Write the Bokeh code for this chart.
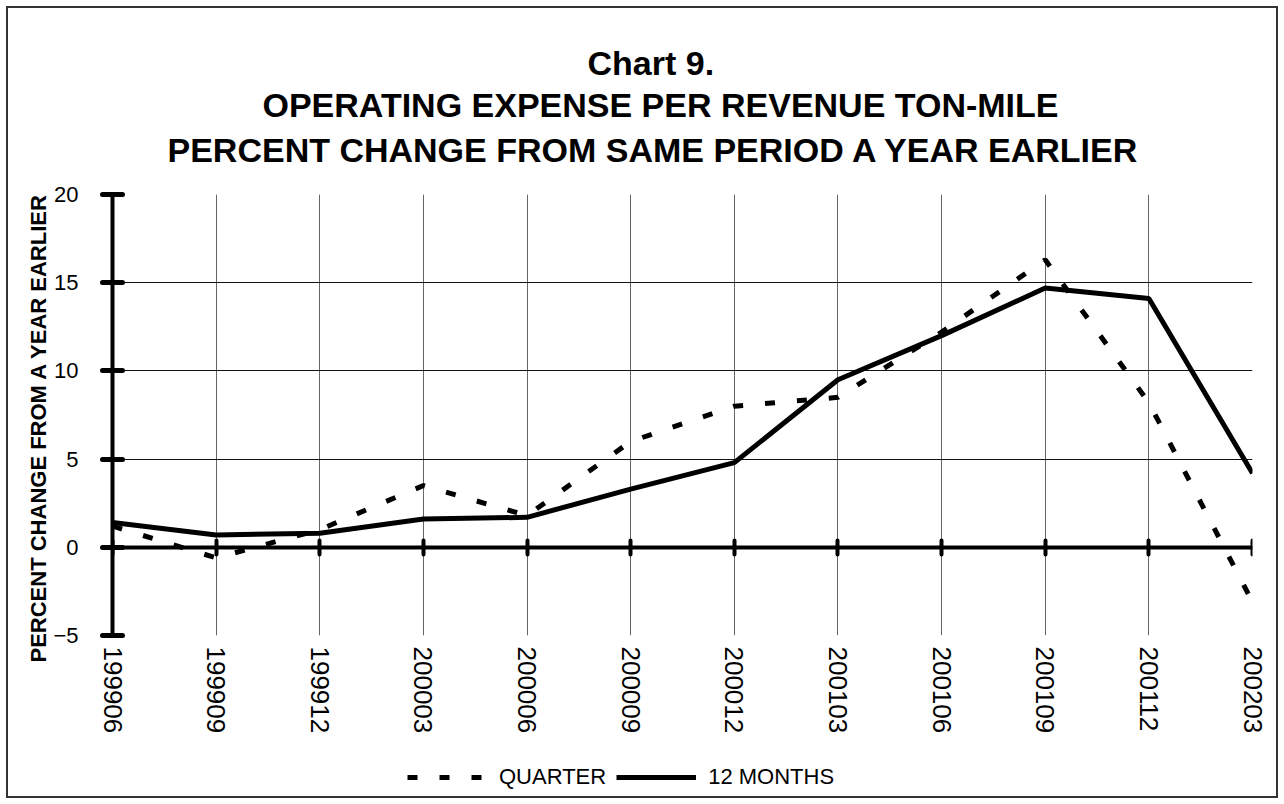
from bokeh.plotting import figure
from bokeh.layouts import column
from bokeh.models import LinearAxis, FixedTicker, Title, Legend, LegendItem, Range1d
from bokeh.embed import file_html
from bokeh.resources import INLINE

periods = ["199906", "199909", "199912", "200003", "200006", "200009",
           "200012", "200103", "200106", "200109", "200112", "200203"]
quarter = [1.2, -0.6, 1.0, 3.5, 1.8, 6.0, 8.0, 8.5, 12.2, 16.3, 8.2, -3.1]
twelve_months = [1.4, 0.7, 0.8, 1.6, 1.7, 3.3, 4.8, 9.5, 12.0, 14.7, 14.1, 4.2]
y_ticks = [-5, 0, 5, 10, 15, 20]
title_lines = ["Chart 9.",
               "OPERATING EXPENSE PER REVENUE TON-MILE",
               "PERCENT CHANGE FROM SAME PERIOD A YEAR EARLIER"]
y_label = "PERCENT CHANGE FROM A YEAR EARLIER"
series_names = ["QUARTER", "12 MONTHS"]

FONT = "Liberation Sans"
x = list(range(len(periods)))

p = figure(width=1268, height=744, output_backend="svg", toolbar_location=None,
           title=None,
           x_range=Range1d(0, len(periods) - 1), y_range=Range1d(y_ticks[0], y_ticks[-1]),
           min_border_left=104, min_border_right=24, min_border_top=186,
           min_border_bottom=117)
p.outline_line_color = None
p.background_fill_color = "white"
p.border_fill_color = "white"

# grab the default axes before adding any extra ones
xa = p.xaxis[0]
ya = p.yaxis[0]

# x axis (labels at bottom)
xa.ticker = FixedTicker(ticks=x)
xa.major_label_overrides = {i: s for i, s in enumerate(periods)}
xa.major_label_orientation = "vertical"
xa.axis_line_color = None
xa.major_tick_line_color = None
xa.minor_tick_line_color = None
xa.major_label_standoff = 5
xa.major_label_text_font = FONT
xa.major_label_text_font_size = "26px"
xa.major_label_text_color = "black"

# y axis
ya.ticker = FixedTicker(ticks=y_ticks)
ya.axis_line_width = 4
ya.axis_line_color = "black"
ya.major_tick_in = 10
ya.major_tick_out = 10
ya.major_tick_line_width = 5
ya.major_tick_line_cap = "round"
ya.minor_tick_line_color = None
ya.major_label_standoff = 24
ya.major_label_text_font = FONT
ya.major_label_text_font_size = "22px"
ya.major_label_text_color = "black"

# zero-crossing category axis
za = LinearAxis(fixed_location=0, ticker=FixedTicker(ticks=x),
                major_label_overrides={i: "" for i in x})
za.axis_line_width = 4
za.axis_line_color = "black"
za.major_tick_in = 7
za.major_tick_out = 7
za.major_tick_line_width = 4
za.major_tick_line_cap = "round"
za.minor_tick_line_color = None
za.major_label_text_font_size = "1px"
p.add_layout(za, "below")

# blank spacer between plot area and title block (white tick on white)
spacer = LinearAxis(ticker=FixedTicker(ticks=[x[-1]]),
                    major_label_overrides={x[-1]: ""},
                    axis_line_color=None, major_tick_line_color="white",
                    minor_tick_line_color=None, major_tick_in=0,
                    major_tick_out=23, major_label_standoff=0,
                    major_label_text_font_size="1px")
p.add_layout(spacer, "above")

# titles (added innermost first)
offsets = [475, 150, 55]
standoffs = [0, 5, 5]
for text, off, so in reversed(list(zip(title_lines, offsets, standoffs))):
    p.add_layout(Title(text=text, align="left", offset=off, text_font=FONT,
                       text_font_size="34px", text_font_style="bold",
                       text_color="black", standoff=so), "above")

p.add_layout(Title(text=y_label, align="left", offset=-27, text_font=FONT,
                   text_font_size="22px", text_font_style="bold",
                   text_color="black", standoff=0), "left")

# grids
p.xgrid.ticker = FixedTicker(ticks=x)
p.xgrid.grid_line_color = "#666666"
p.xgrid.grid_line_width = 1
p.ygrid.ticker = FixedTicker(ticks=y_ticks)
p.ygrid.grid_line_color = "#111111"
p.ygrid.grid_line_width = 1

q_style = dict(line_color="black", line_width=5, line_dash="10 22")
m_style = dict(line_color="black", line_width=5)
p.line(x, quarter, **q_style)
p.line(x, twelve_months, **m_style)

# legend strip below the chart (hidden twin renderers feed the legend glyphs)
p2 = figure(width=1268, height=44, output_backend="svg", toolbar_location=None,
            title=None, x_axis_type=None, y_axis_type=None, min_border=0,
            x_range=Range1d(0, len(periods) - 1),
            y_range=Range1d(y_ticks[0], y_ticks[-1]))
p2.outline_line_color = None
p2.background_fill_color = "white"
p2.border_fill_color = "white"
p2.xgrid.visible = False
p2.ygrid.visible = False
lq = p2.line(x, quarter, visible=False, **q_style)
lm = p2.line(x, twelve_months, visible=False, **m_style)
legend = Legend(items=[LegendItem(label=series_names[0], renderers=[lq]),
                       LegendItem(label=series_names[1], renderers=[lm])],
                orientation="horizontal", location=(295, 6),
                border_line_color=None, background_fill_alpha=0,
                inactive_fill_alpha=0,
                label_text_font=FONT, label_text_font_size="22px",
                label_text_color="black",
                glyph_width=80, label_standoff=12, spacing=10,
                padding=0, margin=0)
p2.add_layout(legend, "center")

layout = column(p, p2, spacing=0, margin=8,
                styles={"outline": "2px solid #333333"})

open("out.html", "w").write(file_html(layout, INLINE))
